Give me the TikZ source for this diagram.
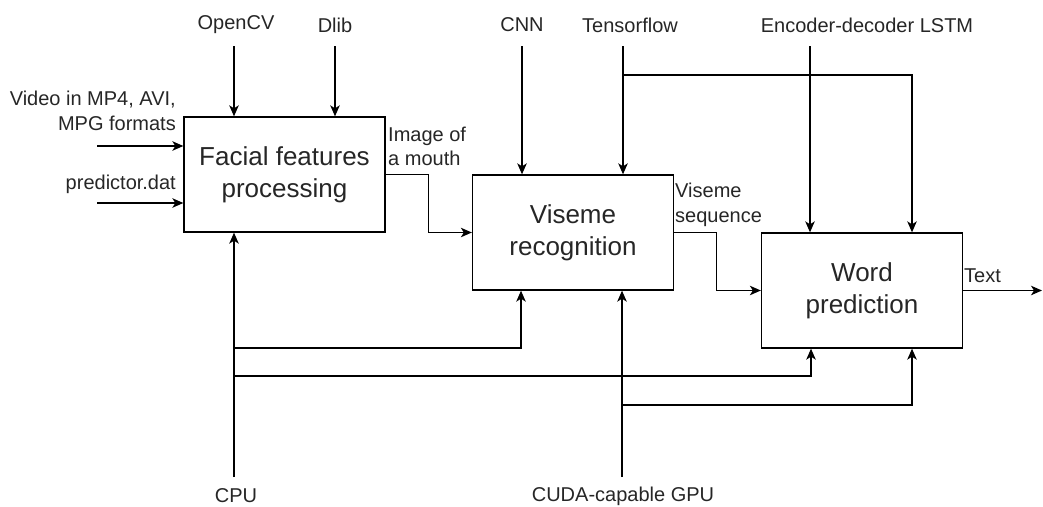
\documentclass[tikz,border=0pt]{standalone}
\usepackage{fontspec}
\setmainfont{Liberation Sans}
\usetikzlibrary{arrows.meta}
\definecolor{txt}{HTML}{262626}
\tikzset{
  box/.style={draw=black, line width=1.3pt, minimum width=201pt, minimum height=115pt, inner sep=0pt, align=center, text=txt, font=\fontsize{26pt}{32pt}\selectfont},
  lbl/.style={inner sep=0pt, text=txt, font=\fontsize{20pt}{24.5pt}\selectfont},
  conn/.style={draw=black, line width=1.3pt},
  arr/.style={conn, -{Stealth[length=11pt, width=9.5pt, inset=3pt]}}
}
\begin{document}
\begin{tikzpicture}[x=1pt, y=-1pt]
\useasboundingbox (0,0) rectangle (1043,506);
% boxes
\node[box] (f) at (284.5,174.5) {Facial features\\processing};
\node[box] (v) at (573,232.5) {Viseme\\recognition};
\node[box] (w) at (862,290.5) {Word\\prediction};
% labels
\node[lbl] (lcv) at (236,25) {OpenCV};
\node[lbl] (ldl) at (335,25) {Dlib};
\node[lbl] (lcnn) at (522,25) {CNN};
\node[lbl] (ltf) at (630,25) {Tensorflow};
\node[lbl] (llstm) at (867,25) {Encoder-decoder LSTM};
\node[lbl, anchor=east, align=right] (lvid) at (176,111) {Video in MP4, AVI,\\MPG formats};
\node[lbl, anchor=east] (lpred) at (176,184) {predictor.dat};
\node[lbl, anchor=west, align=left] (limg) at (388,146.5) {Image of\\a mouth};
\node[lbl, anchor=west, align=left] (lvs) at (675,205) {Viseme\\sequence};
\node[lbl, anchor=west] (ltext) at (964,276) {Text};
\node[lbl] (lcpu) at (236,496) {CPU};
\node[lbl] (lgpu) at (623,496) {CUDA-capable GPU};
% coordinates
\coordinate (cv0) at (234,46);
\coordinate (dl0) at (335,46);
\coordinate (cnn0) at (522,46);
\coordinate (tf0) at (623,46);
\coordinate (tfb) at (623,75);
\coordinate (tfw) at (912,75);
\coordinate (lstm0) at (810,46);
\coordinate (in1) at (97,146);
\coordinate (in2) at (97,203);
\coordinate (out) at (1042,290.5);
\coordinate (cpu0) at (234,477);
\coordinate (cb1) at (234,348);
\coordinate (cb2) at (234,376);
\coordinate (xa) at (521,0);
\coordinate (xb) at (811,0);
\coordinate (gpu0) at (622,477);
\coordinate (gb) at (622,405);
\coordinate (xd) at (912,0);
% top inputs
\draw[arr] (cv0) -- (cv0 |- f.north);
\draw[arr] (dl0) -- (dl0 |- f.north);
\draw[arr] (cnn0) -- (cnn0 |- v.north);
\draw[arr] (tf0) -- (tf0 |- v.north);
\draw[arr] (tfb) -- (tfw) -- (tfw |- w.north);
\draw[arr] (lstm0) -- (lstm0 |- w.north);
% left inputs
\draw[arr] (in1) -- (in1 -| f.west);
\draw[arr] (in2) -- (in2 -| f.west);
% flow
\draw[arr] (f.east) -- ++(43,0) |- (v.west);
\draw[arr] (v.east) -- ++(42,0) |- (w.west);
\draw[arr] (w.east) -- (out);
% mechanisms
\draw[arr] (cpu0) -- (cpu0 |- f.south);
\draw[arr] (cb1) -| (v.south -| xa);
\draw[arr] (cb2) -| (w.south -| xb);
\draw[arr] (gpu0) -- (gpu0 |- v.south);
\draw[arr] (gb) -| (w.south -| xd);
\end{tikzpicture}
\end{document}
